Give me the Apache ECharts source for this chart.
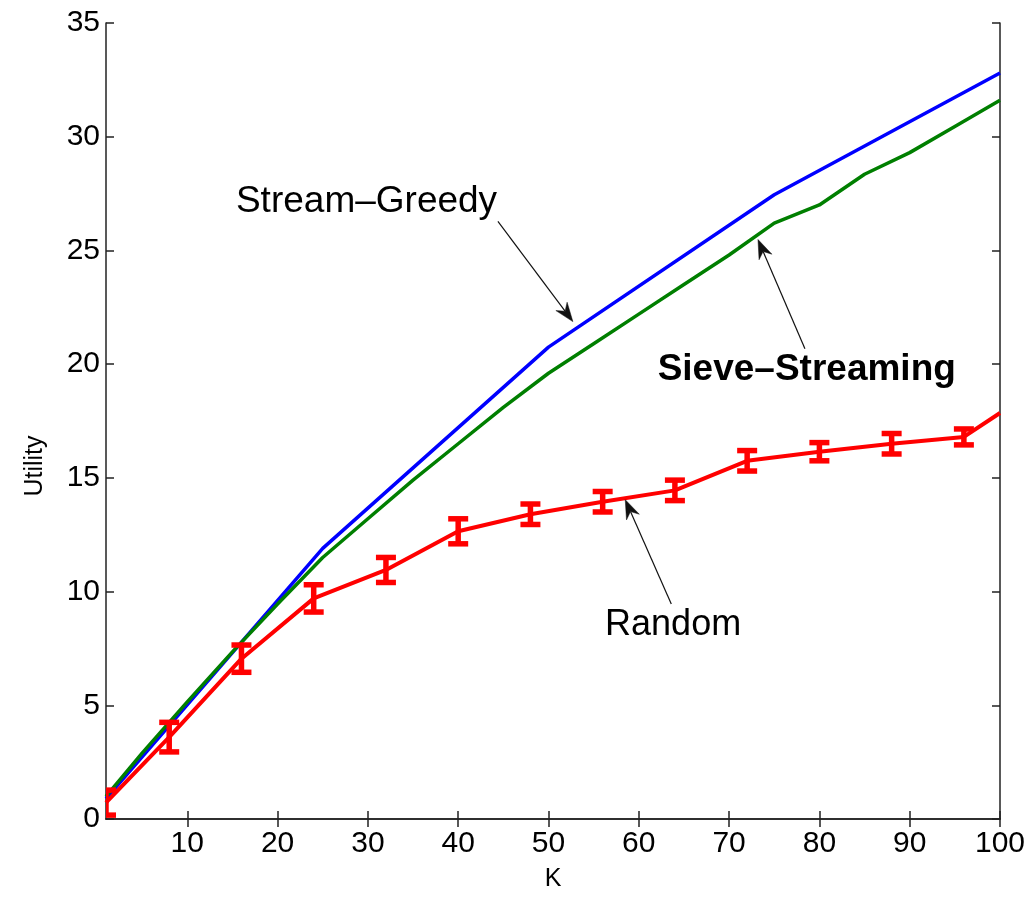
<!DOCTYPE html>
<html>
<head>
<meta charset="utf-8">
<script src="https://cdn.jsdelivr.net/npm/echarts@6/dist/echarts.min.js"></script>
<style>
html,body{margin:0;padding:0;background:#fff;}
#chart{width:1035px;height:897px;}
</style>
</head>
<body>
<div id="chart"></div>
<script>
// ---- data ----
const kTicks = [10, 20, 30, 40, 50, 60, 70, 80, 90, 100];
const yTicks = [0, 5, 10, 15, 20, 25, 30, 35];

const kGreedy = [1, 25, 50, 75, 100];
const utilGreedy = [0.9, 11.9, 20.75, 27.45, 32.8];

const kSieve = [1, 5, 10, 15, 20, 25, 30, 35, 40, 45, 50, 55, 60, 65, 70, 75, 80, 85, 90, 95, 100];
const utilSieve = [1.0, 2.9, 5.15, 7.35, 9.45, 11.5, 13.2, 14.9, 16.5, 18.1, 19.6, 20.9, 22.2, 23.5, 24.8, 26.2, 27.0, 28.35, 29.3, 30.45, 31.6];

const kRandom = [1, 8, 16, 24, 32, 40, 48, 56, 64, 72, 80, 88, 96, 100];
const utilRandom = [0.72, 3.6, 7.05, 9.7, 10.95, 12.65, 13.4, 13.95, 14.45, 15.75, 16.15, 16.5, 16.8, 17.85];
const errRandom = [0.55, 0.65, 0.6, 0.6, 0.55, 0.55, 0.45, 0.45, 0.45, 0.45, 0.4, 0.45, 0.35, null];

// annotations (data coordinates)
const annLabels = ['Stream\u2013Greedy', 'Sieve\u2013Streaming', 'Random'];
const annText = [[29.85, 27.15], [78.6, 19.76], [63.8, 8.54]];
const annTail = [[44.4, 26.28], [78.4, 20.68], [63.6, 9.45]];
const annTip = [[52.7, 21.87], [73.2, 25.48], [58.5, 14.04]];
const annBold = [false, true, false];
const annSize = [37, 37, 36];

// ---- chart ----
const FONT = '"Liberation Sans", Arial, Helvetica, sans-serif';
const chart = echarts.init(document.getElementById('chart'), null, {renderer: 'canvas'});

const axisLineStyle = {color: '#222', width: 1.5};
const pair = (xs, ys) => xs.map((x, i) => [x, ys[i]]);
const errData = kRandom.map((k, i) => errRandom[i] == null ? null : [k, utilRandom[i] - errRandom[i], utilRandom[i] + errRandom[i]]).filter(d => d);

const option = {
  animation: false,
  backgroundColor: '#fff',
  grid: {left: 106, top: 23, right: 35, bottom: 74, containLabel: false},
  xAxis: [{
    type: 'value', min: 1, max: 100, position: 'bottom',
    name: 'K', nameLocation: 'middle', nameGap: 48,
    nameTextStyle: {fontFamily: FONT, fontSize: 25, color: '#000'},
    axisLine: {show: true, lineStyle: axisLineStyle},
    axisTick: {show: true, inside: true, length: 8, lineStyle: axisLineStyle, customValues: kTicks},
    axisLabel: {show: true, fontFamily: FONT, fontSize: 30, color: '#000', margin: 10, customValues: kTicks},
    splitLine: {show: false}
  }, {
    type: 'value', min: 1, max: 100, position: 'top',
    axisLine: {show: true, lineStyle: axisLineStyle},
    axisTick: {show: true, inside: true, length: 8, lineStyle: axisLineStyle, customValues: kTicks},
    axisLabel: {show: false},
    splitLine: {show: false}
  }],
  yAxis: [{
    type: 'value', min: 0, max: 35, interval: 5, position: 'left',
    name: 'Utility', nameLocation: 'middle', nameGap: 58, nameRotate: 90,
    nameTextStyle: {fontFamily: FONT, fontSize: 25, color: '#000', padding: [0, 90, 0, 0]},
    axisLine: {show: true, lineStyle: axisLineStyle},
    axisTick: {show: true, inside: true, length: 8, lineStyle: axisLineStyle},
    axisLabel: {show: true, fontFamily: FONT, fontSize: 30, color: '#000', margin: 6},
    splitLine: {show: false}
  }, {
    type: 'value', min: 0, max: 35, interval: 5, position: 'right',
    axisLine: {show: true, lineStyle: axisLineStyle},
    axisTick: {show: true, inside: true, length: 8, lineStyle: axisLineStyle},
    axisLabel: {show: false},
    splitLine: {show: false}
  }],
  series: [{
    name: 'Stream-Greedy', type: 'line', data: pair(kGreedy, utilGreedy),
    showSymbol: false, symbol: 'none', lineStyle: {color: '#0000ff', width: 3.5}, z: 3
  }, {
    name: 'Sieve-Streaming', type: 'line', data: pair(kSieve, utilSieve),
    showSymbol: false, symbol: 'none', lineStyle: {color: '#007f00', width: 3.5}, z: 4
  }, {
    name: 'Random', type: 'line', data: pair(kRandom, utilRandom),
    showSymbol: false, symbol: 'none', lineStyle: {color: '#ff0000', width: 4}, z: 5
  }, {
    name: 'Random error', type: 'custom', clip: true, z: 6,
    data: errData,
    renderItem: function (params, api) {
      const x = api.value(0);
      const lo = api.coord([x, api.value(1)]);
      const hi = api.coord([x, api.value(2)]);
      const hw = 10;
      const st = {stroke: '#ff0000', lineWidth: 5.5, fill: null};
      return {
        type: 'group',
        children: [
          {type: 'line', shape: {x1: lo[0], y1: lo[1], x2: hi[0], y2: hi[1]}, style: st},
          {type: 'line', shape: {x1: lo[0] - hw, y1: lo[1], x2: lo[0] + hw, y2: lo[1]}, style: st},
          {type: 'line', shape: {x1: hi[0] - hw, y1: hi[1], x2: hi[0] + hw, y2: hi[1]}, style: st}
        ]
      };
    }
  }]
};
chart.setOption(option);

// annotations positioned through the axes
function toPx(p) { return chart.convertToPixel({xAxisIndex: 0, yAxisIndex: 0}, p); }
const graphics = [];
annLabels.forEach(function (label, i) {
  const t = toPx(annText[i]);
  graphics.push({
    type: 'text', x: t[0], y: t[1], z: 20,
    style: {
      text: label, fill: '#000',
      font: (annBold[i] ? 'bold ' : '') + annSize[i] + 'px ' + FONT,
      textAlign: 'center', textVerticalAlign: 'middle', align: 'center', verticalAlign: 'middle'
    }
  });
  const a = toPx(annTail[i]);
  const b = toPx(annTip[i]);
  const dx = b[0] - a[0], dy = b[1] - a[1];
  const len = Math.sqrt(dx * dx + dy * dy);
  const ux = dx / len, uy = dy / len;
  const nx = -uy, ny = ux;
  const L = 19, W = 7, N = 13;
  const back = [b[0] - ux * L, b[1] - uy * L];
  const notch = [b[0] - ux * N, b[1] - uy * N];
  graphics.push({
    type: 'line', z: 20,
    shape: {x1: a[0], y1: a[1], x2: notch[0], y2: notch[1]},
    style: {stroke: '#111', lineWidth: 1.2}
  });
  graphics.push({
    type: 'polygon', z: 20,
    shape: {points: [b, [back[0] + nx * W, back[1] + ny * W], notch, [back[0] - nx * W, back[1] - ny * W]]},
    style: {fill: '#111', stroke: '#111', lineWidth: 0.5}
  });
});
chart.setOption({graphic: graphics});
</script>
</body>
</html>
